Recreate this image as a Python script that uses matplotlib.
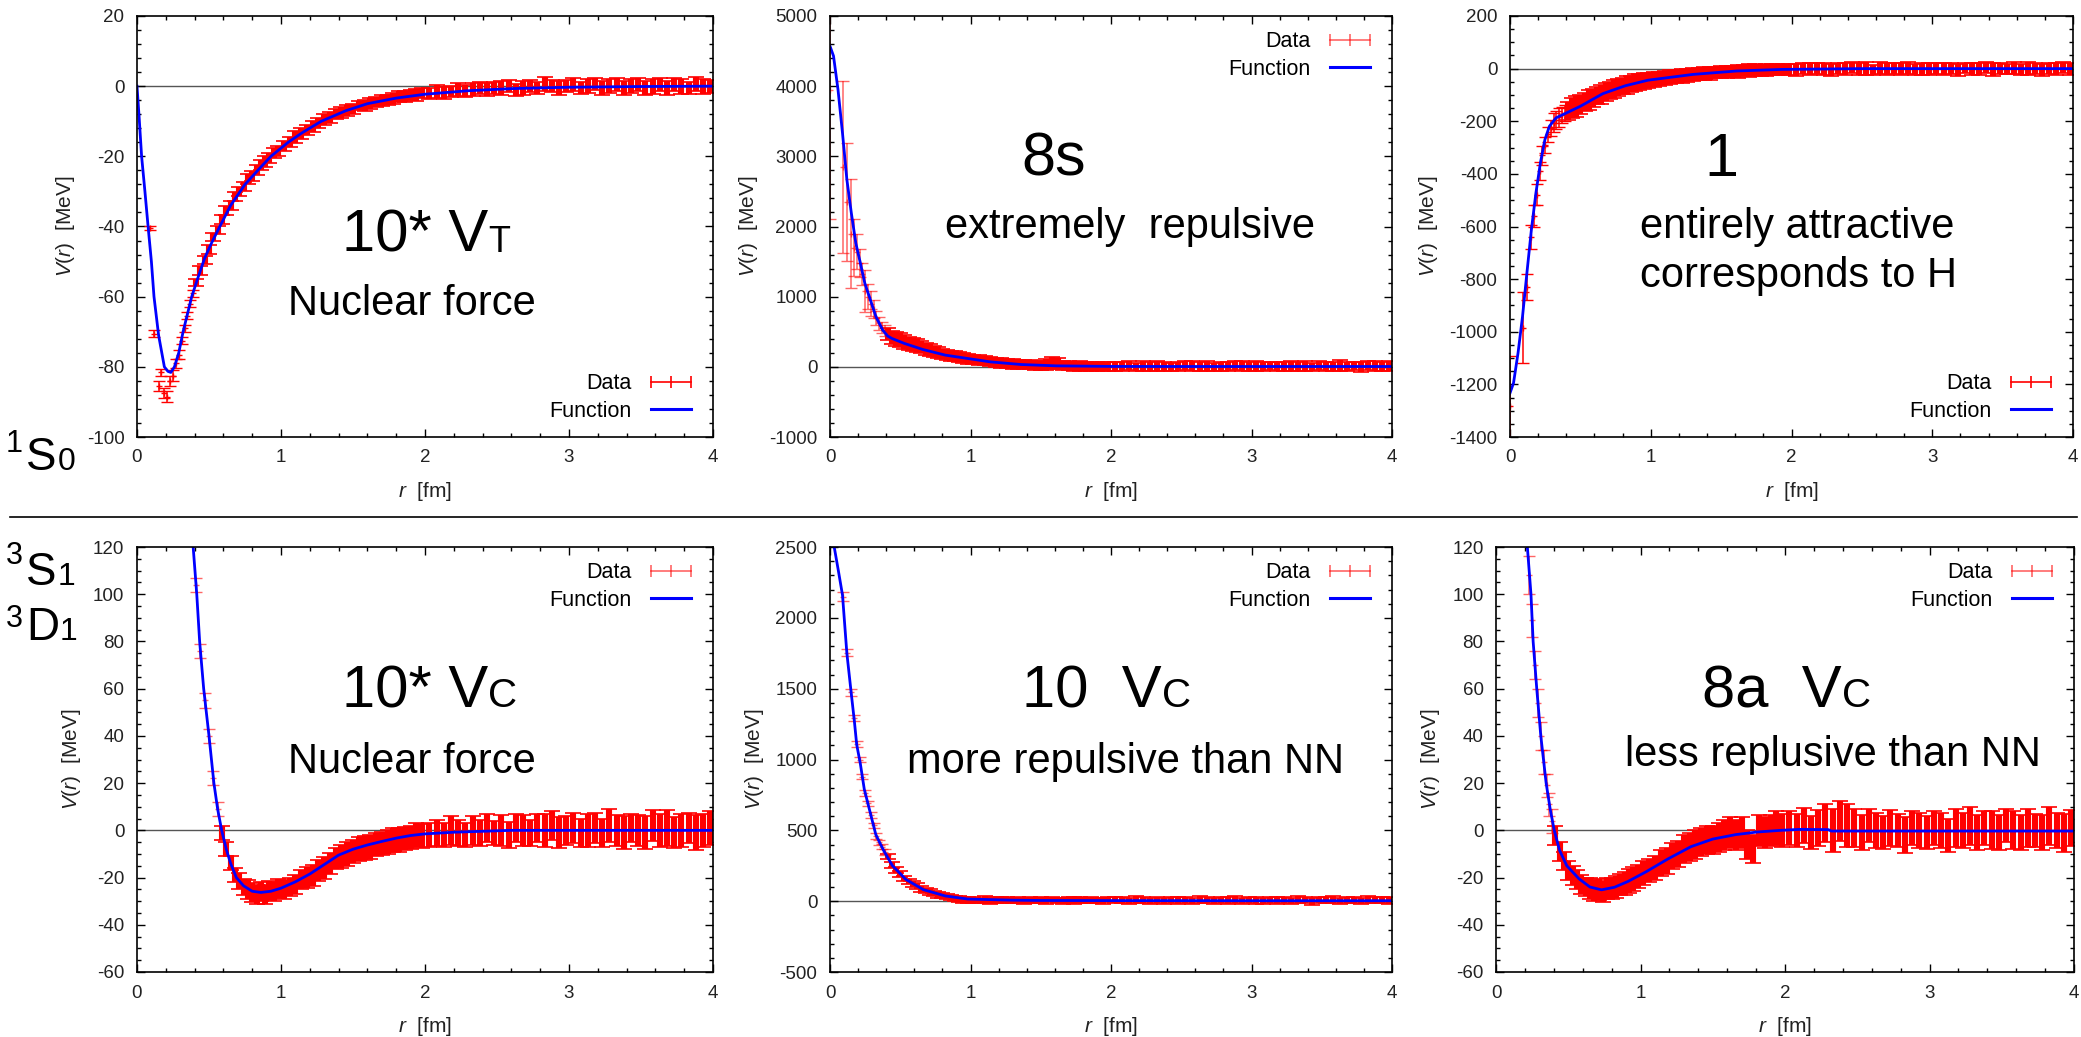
import matplotlib
matplotlib.use("Agg")
import matplotlib.pyplot as plt
from matplotlib.lines import Line2D
from matplotlib.ticker import MultipleLocator

plt.rcParams['font.family'] = ['Liberation Sans', 'DejaVu Sans']
plt.rcParams['mathtext.fontset'] = 'custom'
plt.rcParams['mathtext.rm'] = 'Liberation Sans'
plt.rcParams['mathtext.it'] = 'Liberation Sans:italic'
plt.rcParams['axes.unicode_minus'] = False

W, H = 2081, 1037
nan = float('nan')

# lattice distances of the data points [fm], shared by all panels
R_DATA = [0.00, 0.09, 0.12, 0.15, 0.17, 0.19, 0.21, 0.23, 0.25, 0.27, 0.29, 0.31, 0.33, 0.35, 0.37, 0.39,
          0.41, 0.44, 0.47, 0.50, 0.53, 0.56, 0.59, 0.62, 0.65, 0.68, 0.71, 0.74, 0.77, 0.80, 0.83, 0.86, 0.89, 0.92, 0.95, 0.98,
          1.02, 1.06, 1.10, 1.14, 1.18, 1.22, 1.26, 1.30, 1.34, 1.38, 1.42, 1.46, 1.50, 1.54, 1.58, 1.62, 1.66, 1.70, 1.74, 1.78, 1.82, 1.86, 1.90, 1.94, 1.98,
          2.03, 2.08, 2.13, 2.18, 2.23, 2.28, 2.33, 2.38, 2.43, 2.48, 2.53, 2.58, 2.63, 2.68, 2.73, 2.78, 2.83, 2.88, 2.93, 2.98,
          3.03, 3.08, 3.13, 3.18, 3.23, 3.28, 3.33, 3.38, 3.43, 3.48, 3.53, 3.58, 3.63, 3.68, 3.73, 3.78, 3.83, 3.88, 3.93, 3.98]

# ---- 1S0, 10* V_T (nuclear force) ----
TL_V = [nan, -40.5, -70.5, -85.5, -81.5, -87.5, -88.5, -84.0, -82.5, -79.0, -76.5, -72.5, -69.0, -65.5, -62.0, -59.0,
        -56.0, -52.5, -49.5, -46.5, -43.0, -41.0, -38.0, -35.5, -34.0, -31.5, -30.0, -28.5, -26.5, -25.5, -24.0, -22.5, -21.5, -20.5, -19.0, -18.5,
        -17.0, -16.0, -14.5, -13.5, -12.5, -11.5, -10.5, -9.5, -9.0, -8.0, -7.5, -7.0, -6.5, -5.5, -5.5, -5.0, -4.5, -4.0, -4.0, -3.5, -3.0, -3.0, -2.5, -2.5, -2.0,
        -2.0, -1.5, -2.0, -1.5, -1.0, -1.5, -1.0, -0.5, -1.0, -0.5, -0.5, 0.0, -1.0, -0.5, 0.0, -0.5, 0.5, 0.0, -0.5, 0.0,
        0.5, -0.5, 0.0, 0.5, -0.5, 0.0, 0.5, -0.5, 0.0, 0.5, -0.5, 0.0, 0.5, -0.5, 0.5, 0.0, -0.5, 0.5, 0.0, 0.0]
TL_E = [nan, 0.5, 1.0, 1.5, 1.0, 1.5, 1.5, 1.5, 1.5, 1.2, 1.2, 1.0, 1.0, 1.0, 1.0, 1.0,
        1.0, 1.2, 1.2, 1.2, 1.2, 1.2, 1.3, 1.3, 1.3, 1.3, 1.3, 1.3, 1.4, 1.4, 1.4, 1.4, 1.5, 1.5, 1.5, 1.5,
        1.5, 1.4, 1.6, 1.5, 1.4, 1.6, 1.5, 1.5, 1.6, 1.4, 1.5, 1.6, 1.5, 1.4, 1.6, 1.5, 1.5, 1.6, 1.4, 1.5, 1.6, 1.5, 1.4, 1.6, 1.5,
        1.6, 1.8, 1.7, 1.6, 1.8, 1.7, 1.9, 1.6, 1.8, 1.7, 1.9, 1.8, 1.7, 1.9, 1.8, 1.7, 2.0, 1.8, 1.9, 1.7,
        1.9, 1.8, 2.0, 1.7, 1.9, 2.0, 1.8, 1.9, 2.0, 1.8, 1.9, 2.1, 1.8, 2.0, 1.9, 2.1, 1.8, 2.0, 2.1, 1.9]
FIT_TL_R = [0.0, 0.015, 0.032, 0.055, 0.077, 0.1, 0.118, 0.15, 0.19, 0.215, 0.235, 0.26, 0.29, 0.32, 0.35, 0.38, 0.42, 0.47,
            0.52, 0.575, 0.65, 0.75, 0.85, 0.93, 1.05, 1.15, 1.28, 1.45, 1.6, 1.8, 2.0, 2.3, 2.6, 3.0, 3.5, 4.0]
FIT_TL_V = [0, -9, -20, -30, -40, -50, -60, -71, -80, -81.3, -81.6, -80, -76, -70, -65, -60, -55, -49,
            -44.5, -40, -34, -28, -23.5, -20, -16, -13.2, -10, -7, -5, -3.4, -2.3, -1.3, -0.7, -0.3, -0.1, 0]

# ---- 1S0, 8s (extremely repulsive) ----
TM_V = [3950, 2850, 2350, 1900, 1700, 1640, 1480, 1320, 1080, 1000, 900, 820, 700, 620, 560, 520,
        470, 420, 400, 380, 350, 330, 315, 300, 280, 260, 240, 220, 205, 185, 170, 160, 150, 140, 125, 115,
        105, 95, 85, 75, 65, 55, 50, 40, 38, 30, 28, 25, 22, 35, 60, 50, 20, 15, 10, 12, 8, 10, 5, 8, 5,
        10, 5, 15, 0, 10, 5, 15, 10, 0, 5, 15, 10, 5, 15, 0, 10, 5, 20, 10, 5,
        10, 0, 15, 5, 10, 15, 5, 10, 0, 15, 5, 10, 20, 5, 10, 0, 15, 10, 5, 15]
TM_E = [1850, 1230, 840, 780, 400, 250, 200, 160, 300, 180, 180, 130, 100, 90, 80, 80,
        90, 90, 100, 100, 100, 90, 90, 90, 85, 85, 80, 80, 75, 75, 70, 70, 70, 70, 70, 70,
        70, 70, 65, 65, 65, 65, 65, 65, 65, 65, 65, 65, 65, 75, 85, 75, 65, 65, 65, 65, 65, 65, 65, 65, 65,
        65, 70, 65, 60, 70, 65, 75, 65, 60, 70, 65, 70, 65, 75, 60, 65, 70, 65, 75, 65,
        70, 65, 60, 70, 65, 75, 65, 70, 60, 65, 70, 65, 75, 65, 60, 70, 65, 70, 65, 75]
FIT_TM_R = [0.0, 0.025, 0.057, 0.089, 0.12, 0.152, 0.184, 0.216, 0.248, 0.28, 0.327, 0.375, 0.41, 0.44,
            0.53, 0.66, 0.82, 0.98, 1.14, 1.36, 1.61, 2.0, 2.5, 3.0, 4.0]
FIT_TM_V = [4570, 4430, 3950, 3330, 2670, 2190, 1760, 1480, 1190, 1000, 714, 524, 440, 405,
            333, 248, 167, 119, 71, 33, 14, 6, 5, 5, 5]

# ---- 1S0, 1 (entirely attractive) ----
TR_V = [-1284, -985, -830, -640, -560, -480, -390, -330, -290, -250, -225, -205, -195, -185, -175, -170,
        -160, -150, -145, -135, -128, -120, -112, -103, -97, -90, -84, -78, -72, -67, -63, -58, -54, -50, -47, -44,
        -42, -38, -35, -32, -30, -27, -25, -22, -20, -18, -17, -15, -13, -12, -11, -10, -8, -7, -6, -6, -5, -4, -4, -3, -3,
        -5, 0, -3, 2, -2, -5, 0, -3, 3, -2, 0, -5, 2, -3, 0, -2, 3, -4, 0, -2,
        2, -3, 0, -5, 2, -2, 0, 3, -3, 0, -2, 4, -3, 0, 2, -4, 0, -2, 3, -1]
TR_E = [190, 135, 50, 45, 40, 40, 35, 35, 30, 30, 30, 35, 35, 35, 30, 30,
        35, 38, 40, 36, 34, 38, 35, 33, 36, 34, 32, 35, 33, 31, 34, 30, 32, 30, 31, 29,
        28, 27, 26, 28, 25, 26, 24, 25, 23, 24, 25, 22, 24, 23, 22, 24, 21, 23, 22, 21, 23, 22, 20, 22, 21,
        22, 20, 23, 21, 24, 22, 20, 23, 21, 22, 24, 20, 22, 23, 21, 24, 22, 20, 23, 22,
        21, 23, 22, 24, 20, 22, 23, 21, 24, 22, 20, 23, 22, 25, 21, 23, 22, 24, 21, 22]
FIT_TR_R = [0.0, 0.025, 0.057, 0.089, 0.12, 0.152, 0.184, 0.216, 0.248, 0.28, 0.327, 0.375, 0.5, 0.66,
            0.82, 0.98, 1.3, 1.61, 1.93, 2.5, 3.0, 4.0]
FIT_TR_V = [-1233, -1195, -1081, -942, -777, -612, -473, -358, -270, -219, -187, -175, -143, -95,
            -65, -44, -22, -9, -3, 0, 0, 0]

# ---- 3S1-3D1, 10* V_C (nuclear force) ----
BL_V = [nan] * 16 + [
        104, 76, 55, 40, 22, 9, -1, -8, -14, -19, -21.5, -24, -25, -26.5, -27, -26, -27, -25.5, -26, -24.5,
        -25, -24, -23, -21, -20, -19, -17, -16, -14, -12, -11, -10, -9, -8, -7.5, -7, -6, -5.5, -5, -4, -4, -3.5, -3, -2, -2.5,
        -2, -1, -2, 0, -1, -2, 0, -1, 1, -1, 0, -2, 1, 0, -1, 1, 0, 2, -1, 0,
        1, -1, 0, 1, -1, 2, 0, -1, 1, 0, -1, 2, 0, 1, -1, 0, 1, -1, 0, 1]
BL_E = [nan] * 16 + [
        3, 3, 3, 3, 3, 3, 3, 3, 3, 3, 3.5, 3.5, 4, 4, 4, 4, 4, 4, 4, 4,
        4, 4, 4, 4, 4.5, 4.5, 4.5, 4.5, 4.5, 4.5, 5, 5, 5, 5, 5, 5, 5, 5, 5, 5, 5, 5, 5, 5, 5,
        5, 5.5, 5, 6, 5.5, 5, 6, 5.5, 6, 5, 6.5, 5.5, 6, 6.5, 5.5, 6, 7, 6, 6.5, 6,
        6.5, 6, 7, 6.5, 6, 7, 6.5, 7, 6, 6.5, 7, 6.5, 7, 7.5, 6.5, 7, 6.5, 7.5, 7, 7]
FIT_BL_R = [0.39, 0.415, 0.435, 0.463, 0.5, 0.534, 0.56, 0.588, 0.62, 0.65, 0.69, 0.74, 0.8, 0.86, 0.93, 1.0,
            1.1, 1.2, 1.3, 1.4, 1.5, 1.6, 1.7, 1.8, 1.9, 2.0, 2.2, 2.4, 2.6, 3.0, 4.0]
FIT_BL_V = [120, 100, 80, 60, 40, 20, 9, 0, -8, -14, -20, -23.5, -25.8, -26.3, -25.8, -24.5,
            -21.8, -18.5, -14.5, -10.5, -8, -6.2, -4.7, -3.3, -2.2, -1.5, -0.8, -0.4, 0, 0, 0]

# ---- 3S1-3D1, 10 V_C (more repulsive than NN) ----
BM_V = [nan, 2150, 1755, 1475, 1295, 1110, 1000, 880, 765, 690, 610, 535, 460, 415, 385, 345,
        315, 255, 220, 190, 160, 140, 120, 105, 88, 75, 65, 55, 45, 40, 33, 25, 20, 15, 10, 8,
        10, 5, 12, 0, 8, 5, 10, 3, 8, 0, 10, 5, 8, 2, 10, 5, 0, 8, 5, 10, 3, 8, 5, 0, 10,
        5, 8, 0, 10, 5, 3, 8, 0, 10, 5, 8, 2, 10, 5, 0, 8, 5, 12, 3, 8,
        5, 0, 10, 5, 8, 2, 10, 5, 0, 8, 5, 10, 3, 8, 5, 0, 10, 5, 8, 5]
BM_E = [nan, 30, 25, 25, 20, 20, 20, 20, 20, 20, 20, 20, 20, 20, 20, 20,
        20, 20, 20, 20, 20, 20, 20, 20, 20, 20, 20, 20, 20, 20, 20, 20, 20, 20, 20, 20,
        20, 18, 22, 20, 19, 21, 20, 18, 22, 20, 21, 19, 20, 22, 18, 20, 21, 19, 22, 20, 18, 21, 20, 22, 19,
        21, 22, 20, 23, 21, 22, 24, 20, 22, 23, 21, 22, 24, 21, 20, 23, 22, 24, 21, 22,
        23, 21, 22, 24, 20, 22, 23, 21, 24, 22, 21, 23, 22, 24, 21, 22, 23, 21, 22, 24]
FIT_BM_R = [0.03, 0.06, 0.089, 0.12, 0.152, 0.174, 0.19, 0.216, 0.244, 0.285, 0.326, 0.38, 0.444,
            0.539, 0.665, 0.82, 0.98, 1.3, 1.5, 2.0, 3.0, 4.0]
FIT_BM_V = [2500, 2330, 2160, 1750, 1460, 1265, 1105, 970, 790, 630, 470, 361, 251,
            154, 81, 37, 15, 7, 5, 4, 3, 3]

# ---- 3S1-3D1, 8a V_C (less repulsive than NN) ----
BR_V = [nan] * 7 + [108, 89, 70, 54, 40, 29, 19, 11, 4,
        -2, -9, -13, -17, -19, -21, -23, -24, -24.5, -25.5, -25, -26, -24.5, -24.5, -24, -23, -22.5, -21.5, -20.5, -19.5,
        -18, -17, -16, -14, -13, -11, -10, -8, -7, -6, -5, -4, -4, -3, -2, -1, -2, -1, -6, -8, 0, -1, 0, 1, 0,
        1, 0, 2, -1, 1, 3, 0, 4, 2, 1, -1, 2, 0, -1, 1, 0, -2, 1, 0, -1,
        1, 0, -2, 1, 0, 2, -1, 1, 0, -1, 2, 0, -1, 1, 0, -1, 2, 0, -1, 1]
BR_E = [nan] * 7 + [8, 7, 6, 6, 6, 5, 5, 5, 5,
        4, 4, 4, 4, 4, 4, 4, 4, 4.5, 4.5, 4.5, 4.5, 4.5, 4.5, 4.5, 4.5, 5, 5, 5, 5,
        5, 5, 5, 5.5, 5.5, 5.5, 5.5, 6, 6, 6, 6, 6, 6, 6, 6.5, 6.5, 6.5, 6.5, 6, 6, 6.5, 6.5, 6.5, 7, 7,
        7, 7, 7.5, 7, 7.5, 8, 9, 8.5, 9, 8, 7.5, 7, 7.5, 7, 7.5, 7, 7.5, 7, 7.5, 7,
        7, 7.5, 7, 8, 7.5, 8, 7.5, 7, 8, 7.5, 7, 8, 7.5, 8, 7, 7.5, 8, 7.5, 8, 7.5]
FIT_BR_R = [0.217, 0.242, 0.257, 0.282, 0.31, 0.347, 0.375, 0.403, 0.44, 0.49, 0.574, 0.65, 0.73, 0.82,
            0.915, 1.04, 1.19, 1.35, 1.5, 1.66, 1.81, 1.97, 2.1, 2.3, 2.32, 4.0]
FIT_BR_V = [120, 100, 80, 60, 40, 20, 9, 0, -8.5, -15, -20.5, -24, -25.2, -24.1,
            -21.6, -17.5, -12.1, -6.9, -3.7, -1.8, -0.7, 0, 0.4, 0.3, -0.3, -0.3]


fig = plt.figure(figsize=(W / 100, H / 100), dpi=100)


def add_axes_px(x0, y0, x1, y1):
    return fig.add_axes([x0 / W, 1 - y1 / H, (x1 - x0) / W, (y1 - y0) / H])


def fig_text(x, y, s, size):
    fig.text(x / W, 1 - y / H, s, fontsize=size, ha='left', va='baseline', color='black')


def draw_panel(box, ylim, ystep, yminor, fit_r, fit_v, data_v, data_e, legend_loc, red_alpha, n_thin):
    ax = add_axes_px(*box)
    ax.axhline(0, color='#555555', lw=1.0, zorder=1)

    # isolated points at short distance: thin gnuplot-like bars
    ax.errorbar(R_DATA[:n_thin], data_v[:n_thin], yerr=data_e[:n_thin], fmt='+', color='#ff0000',
                ms=5, mew=1.0, elinewidth=1.1, capsize=4.5, capthick=1.0, alpha=red_alpha, zorder=2)
    # dense points further out overlap into a solid band
    ax.errorbar(R_DATA[n_thin:], data_v[n_thin:], yerr=data_e[n_thin:], fmt='+', color='#ff0000',
                ms=5, mew=1.2, elinewidth=4.4, capsize=5.5, capthick=1.5, alpha=1.0, zorder=2)
    ax.plot(fit_r, fit_v, color='#0000ff', lw=2.0, zorder=3)

    ax.set_xlim(0, 4)
    ax.set_ylim(*ylim)
    ax.xaxis.set_major_locator(MultipleLocator(1))
    ax.xaxis.set_minor_locator(MultipleLocator(0.2))
    ax.yaxis.set_major_locator(MultipleLocator(ystep))
    ax.yaxis.set_minor_locator(MultipleLocator(yminor))
    ax.tick_params(which='both', direction='in', top=True, right=True, width=1.0,
                   labelsize=13.5, labelcolor='#222222')
    ax.tick_params(which='major', length=5.5)
    ax.tick_params(which='minor', length=3)
    ax.tick_params(axis='x', pad=9)
    ax.tick_params(axis='y', pad=9)
    for sp in ax.spines.values():
        sp.set_linewidth(1.2)
        sp.set_zorder(4)

    ax.set_xlabel(r'$\mathit{r}$  [fm]', fontsize=15, color='#222222', labelpad=10)
    ax.set_ylabel(r'$\mathit{V(r)}$  [MeV]', fontsize=15, color='#222222', labelpad=7)

    handles = [Line2D([], [], color='#ff0000', lw=1.2, marker='|', ms=8, mew=1.2, alpha=red_alpha),
               Line2D([], [], color='#0000ff', lw=2.2)]
    ax.legend(handles, ['Data', 'Function'], loc=legend_loc, frameon=False, markerfirst=False,
              numpoints=3, fontsize=15.5, handlelength=2.5, handletextpad=0.6,
              labelspacing=0.3, borderaxespad=0.3)
    return ax


draw_panel((137, 16, 713, 437), (-100, 20), 20, 4, FIT_TL_R, FIT_TL_V, TL_V, TL_E, 'lower right', 1.0, 16)
draw_panel((830, 16, 1392, 437), (-1000, 5000), 1000, 200, FIT_TM_R, FIT_TM_V, TM_V, TM_E, 'upper right', 0.6, 16)
draw_panel((1510, 16, 2073, 437), (-1400, 200), 200, 50, FIT_TR_R, FIT_TR_V, TR_V, TR_E, 'lower right', 1.0, 16)
draw_panel((137, 547, 713, 972), (-60, 120), 20, 5, FIT_BL_R, FIT_BL_V, BL_V, BL_E, 'upper right', 0.6, 22)
draw_panel((830, 547, 1392, 972), (-500, 2500), 500, 100, FIT_BM_R, FIT_BM_V, BM_V, BM_E, 'upper right', 0.6, 16)
draw_panel((1496, 547, 2074, 972), (-60, 120), 20, 5, FIT_BR_R, FIT_BR_V, BR_V, BR_E, 'upper right', 0.6, 16)

# large annotations
fig_text(342, 252, '10* V', 43)
fig_text(488, 252, 'T', 26)
fig_text(288, 315, 'Nuclear force', 30)
fig_text(1021, 176, '8s', 44)
fig_text(945, 238, 'extremely  repulsive', 30)
fig_text(1704, 176, '1', 44)
fig_text(1640, 238, 'entirely attractive', 30)
fig_text(1640, 287, 'corresponds to H', 30)
fig_text(342, 707, '10* V', 43)
fig_text(488, 707, 'C', 29)
fig_text(288, 773, 'Nuclear force', 30)
fig_text(1022, 707, '10  V', 43)
fig_text(1162, 707, 'C', 29)
fig_text(907, 773, 'more repulsive than NN', 30)
fig_text(1702, 707, '8a  V', 43)
fig_text(1842, 707, 'C', 29)
fig_text(1625, 766, 'less replusive than NN', 30)

# channel labels on the left
fig_text(6, 452, '1', 22)
fig_text(26, 470, 'S', 33)
fig_text(58, 470, '0', 23)
fig_text(6, 564, '3', 22)
fig_text(26, 585, 'S', 33)
fig_text(58, 585, '1', 23)
fig_text(6, 627, '3', 22)
fig_text(26, 640, 'D', 33)
fig_text(60, 640, '1', 23)

# separator between the two channels
fig.add_artist(Line2D([10 / W, 2077 / W], [1 - 517 / H, 1 - 517 / H], color='black', lw=1.2))

fig.savefig('out.png', dpi=100)
